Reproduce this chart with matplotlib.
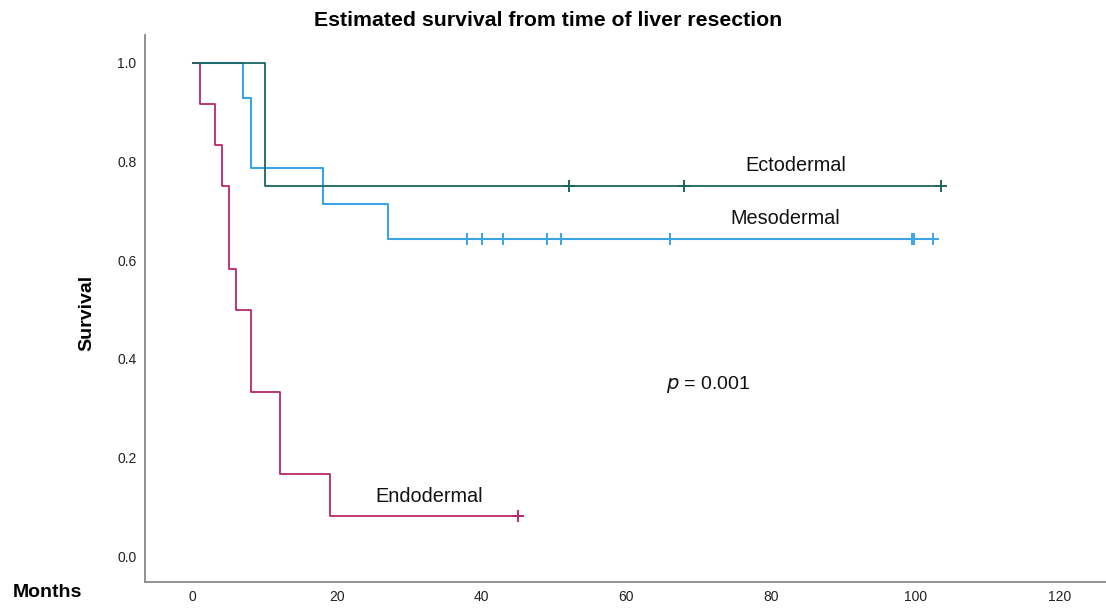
import matplotlib
matplotlib.use("Agg")
import matplotlib.pyplot as plt

plt.rcParams['font.family'] = ['Liberation Sans', 'DejaVu Sans']

# Kaplan-Meier step data (time in months, survival after step)
endo_times = [0, 1, 3, 4, 5, 6, 8, 12, 19, 45]
endo_surv = [1.0, 0.917, 0.833, 0.75, 0.583, 0.5, 0.333, 0.167, 0.083, 0.083]
endo_censor = [45]

meso_times = [0, 7, 8, 18, 27, 102.5]
meso_surv = [1.0, 0.929, 0.786, 0.714, 0.643, 0.643]
meso_censor = [38, 40, 43, 49, 51, 66, 99.5, 99.8, 102.5]

ecto_times = [0, 10, 103.5]
ecto_surv = [1.0, 0.75, 0.75]
ecto_censor = [52, 68, 103.5]

x_ticks = [0, 20, 40, 60, 80, 100, 120]
y_ticks = [0.0, 0.2, 0.4, 0.6, 0.8, 1.0]

c_endo = '#b8286c'
c_meso = '#3ba3e6'
c_ecto = '#1b6560'

fig = plt.figure(figsize=(11.06, 6.08), dpi=100)
ax = fig.add_axes([0.131, 0.0435, 0.869, 0.8995])

def km(times, surv, censor, color, lw=1.3):
    ax.step(times, surv, where='post', color=color, lw=lw, zorder=3)
    cs = [surv[max(i for i, t in enumerate(times) if t <= c)] for c in censor]
    ax.plot(censor, cs, linestyle='none', marker='+', color=color,
            markersize=8, markeredgewidth=1.4, zorder=4)

km(meso_times, meso_surv, meso_censor, c_meso, lw=1.5)
km(endo_times, endo_surv, endo_censor, c_endo)
km(ecto_times, ecto_surv, ecto_censor, c_ecto)

ax.set_xlim(-6.64, 126.4)
ax.set_ylim(-0.0507, 1.0568)
ax.set_xticks(x_ticks)
ax.set_xticklabels([str(v) for v in x_ticks])
ax.set_yticks(y_ticks)
ax.set_yticklabels([f'{v:.1f}' for v in y_ticks])
ax.tick_params(length=0, labelsize=10, colors='#222222')
ax.tick_params(axis='x', pad=6)
ax.tick_params(axis='y', pad=6)

for s in ['top', 'right']:
    ax.spines[s].set_visible(False)
for s in ['left', 'bottom']:
    ax.spines[s].set_color('#888888')
    ax.spines[s].set_linewidth(1.3)

ax.text(83.5, 0.792, 'Ectodermal', ha='center', va='center', fontsize=14.3, color='#111111')
ax.text(82.0, 0.685, 'Mesodermal', ha='center', va='center', fontsize=14.3, color='#111111')
ax.text(32.7, 0.121, 'Endodermal', ha='center', va='center', fontsize=14.3, color='#111111')
ax.text(71.3, 0.348, r'$\it{p}$ = 0.001', ha='center', va='center', fontsize=14, color='#111111')

fig.text(0.496, 0.967, 'Estimated survival from time of liver resection',
         ha='center', va='center', fontsize=15.3, fontweight='bold')
fig.text(0.079, 0.485, 'Survival', rotation=90, ha='center', va='center',
         fontsize=14, fontweight='bold')
fig.text(0.0425, 0.026, 'Months', ha='center', va='center',
         fontsize=14, fontweight='bold')

fig.savefig('out.png', dpi=100)
